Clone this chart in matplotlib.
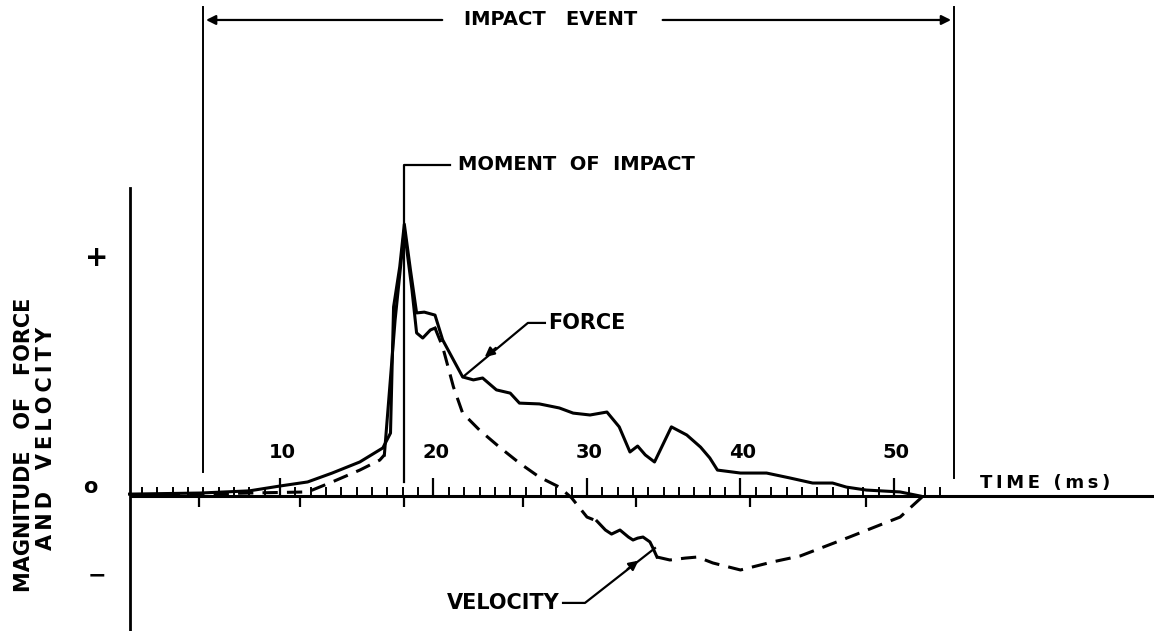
import numpy as np
import matplotlib
matplotlib.use("Agg")
import matplotlib.pyplot as plt

## time (ms) and force magnitude (relative, peak ~1)
force_t = [0.2, 4.8, 8.0, 10.0, 11.8, 13.4, 15.2, 16.7, 17.2, 17.4, 17.8, 18.1, 18.5, 18.9,
           19.4, 20.1, 20.6, 21.3, 21.9, 22.6, 23.2, 24.1, 25.0, 25.6, 26.9, 28.2, 29.1,
           30.2, 31.3, 32.1, 32.8, 33.3, 33.8, 34.4, 35.5, 36.5, 37.4, 38.0, 38.5, 40.0,
           41.7, 43.2, 44.7, 46.0, 46.9, 48.2, 50.4, 51.7]
force_v = [0.007, 0.011, 0.019, 0.037, 0.052, 0.085, 0.126, 0.178, 0.233, 0.700, 0.848, 1.007,
           0.837, 0.678, 0.681, 0.670, 0.578, 0.504, 0.441, 0.430, 0.437, 0.393, 0.381, 0.344,
           0.341, 0.326, 0.307, 0.300, 0.311, 0.256, 0.163, 0.185, 0.152, 0.126, 0.256, 0.226,
           0.181, 0.141, 0.096, 0.085, 0.085, 0.067, 0.048, 0.048, 0.033, 0.022, 0.015, 0.0]

## velocity (relative)
vel_t = [0.9, 4.8, 8.0, 11.8, 13.4, 15.2, 16.5, 16.8, 17.5, 17.9, 18.1, 18.6, 18.9, 19.3,
         19.8, 20.1, 20.6, 21.3, 21.9, 23.0, 24.3, 25.6, 26.9, 28.2, 29.0, 30.0, 30.65,
         31.2, 31.6, 32.15, 32.7, 33.0, 33.3, 33.65, 34.1, 34.3, 34.56, 35.4, 36.4, 37.2,
         38.2, 40.0, 42.1, 43.9, 47.1, 49.1, 50.4, 51.9]
vel_v = [0.004, 0.007, 0.011, 0.015, 0.052, 0.096, 0.133, 0.152, 0.652, 0.874, 0.985, 0.763,
         0.604, 0.585, 0.615, 0.622, 0.552, 0.404, 0.307, 0.244, 0.181, 0.122, 0.070, 0.033,
         -0.007, -0.078, -0.093, -0.126, -0.141, -0.126, -0.152, -0.163, -0.156, -0.152,
         -0.170, -0.193, -0.226, -0.237, -0.230, -0.226, -0.248, -0.274, -0.244, -0.222,
         -0.152, -0.107, -0.078, 0.0]
## which parts of velocity trace are drawn solid (index ranges), rest dashed
vel_solid = [(7, 15), (26, 36)]

major_ticks = [10, 20, 30, 40, 50]
minor_ticks = list(range(1, 54))
lower_ticks = [4.7, 11.3, 18.1, 25.8, 33.2, 40.6, 48.2]

impact_start, impact_end = 5.0, 53.9
moment_of_impact = 18.1

ink = "black"
plt.rcParams['font.family'] = ['DejaVu Sans']
plt.rcParams['font.weight'] = 'bold'


def spaced(s):
    ## hand lettering look: thin space between letters
    return "\u2009".join(s)


fig = plt.figure(figsize=(11.54, 6.31), dpi=100)
ax = fig.add_axes([0, 0, 1, 1])
ax.set_xlim(-8.24, 66.94)
ax.set_ylim(-0.5, 1.837)
ax.axis("off")

## axes
ax.plot([0.23, 66.94], [0, 0], color=ink, lw=2.2, solid_capstyle="butt")
ax.plot([0.23, 0.23], [-0.5, 1.141], color=ink, lw=2.0)
ax.vlines(minor_ticks, 0, 0.035, color=ink, lw=1.4)
ax.vlines(major_ticks, 0, 0.065, color=ink, lw=1.6)
ax.vlines(lower_ticks, -0.04, 0, color=ink, lw=1.6)
for m in major_ticks:
    ax.text(m + 0.15, 0.16, str(m), ha="center", va="center", fontsize=14, color=ink)
ax.text(55.6, 0.048, spaced("TIME (ms)"), ha="left", va="center", fontsize=13, color=ink)
ax.text(-1.92, 0.881, "+", ha="center", va="center", fontsize=20, color=ink)
ax.text(-2.38, 0.033, "o", ha="center", va="center", fontsize=15, color=ink)
ax.text(-1.92, -0.293, "\u2212", ha="center", va="center", fontsize=16, color=ink)
ax.text(-6.68, 0.189, "MAGNITUDE   OF   FORCE", rotation=90, rotation_mode="anchor",
        ha="center", va="center", fontsize=15, color=ink)
ax.text(-5.24, 0.215, spaced("AND") + "   " + spaced("VELOCITY"), rotation=90,
        rotation_mode="anchor", ha="center", va="center", fontsize=15, color=ink)

## curves
ax.plot(force_t, force_v, color=ink, lw=2.2, solid_joinstyle="round")
vt = np.array(vel_t)
vv = np.array(vel_v)
edges = [0]
for a, b in vel_solid:
    edges += [a, b]
edges.append(len(vt) - 1)
for k in range(len(edges) - 1):
    a, b = edges[k], edges[k + 1]
    style = "-" if k % 2 == 1 else "--"
    line, = ax.plot(vt[a:b + 1], vv[a:b + 1], color=ink, lw=2.2, ls=style)
    if style == "--":
        line.set_dashes((5, 3))

## impact event bracket
ax.plot([impact_start, impact_start], [0.089, 1.81], color=ink, lw=1.4)
ax.plot([impact_end, impact_end], [0.067, 1.81], color=ink, lw=1.4)
ax.annotate("", xy=(impact_start, 1.763), xytext=(20.75, 1.763),
            arrowprops=dict(arrowstyle="-|>", color=ink, lw=1.6, mutation_scale=14))
ax.annotate("", xy=(impact_end, 1.763), xytext=(34.75, 1.763),
            arrowprops=dict(arrowstyle="-|>", color=ink, lw=1.6, mutation_scale=14))
ax.text(27.6, 1.763, "IMPACT   EVENT", ha="center", va="center", fontsize=14, color=ink)

## moment of impact
ax.plot([moment_of_impact, moment_of_impact, 21.07], [0.052, 1.226, 1.226], color=ink, lw=1.6)
ax.text(21.6, 1.226, "MOMENT  OF  IMPACT", ha="left", va="center", fontsize=14, color=ink)

## force label
ax.plot([27.26, 26.15, 21.92], [0.641, 0.641, 0.441], color=ink, lw=1.6)
ax.annotate("", xy=(23.2, 0.508), xytext=(24.2, 0.555),
            arrowprops=dict(arrowstyle="-|>", color=ink, lw=1.6, mutation_scale=14))
ax.text(27.45, 0.641, "FORCE", ha="left", va="center", fontsize=15, color=ink)

## velocity label
ax.plot([28.44, 29.87, 34.43], [-0.396, -0.396, -0.193], color=ink, lw=1.6)
ax.annotate("", xy=(33.5, -0.233), xytext=(32.5, -0.277),
            arrowprops=dict(arrowstyle="-|>", color=ink, lw=1.6, mutation_scale=14))
ax.text(28.2, -0.396, "VELOCITY", ha="right", va="center", fontsize=15, color=ink)

fig.savefig("out.png", dpi=100)
